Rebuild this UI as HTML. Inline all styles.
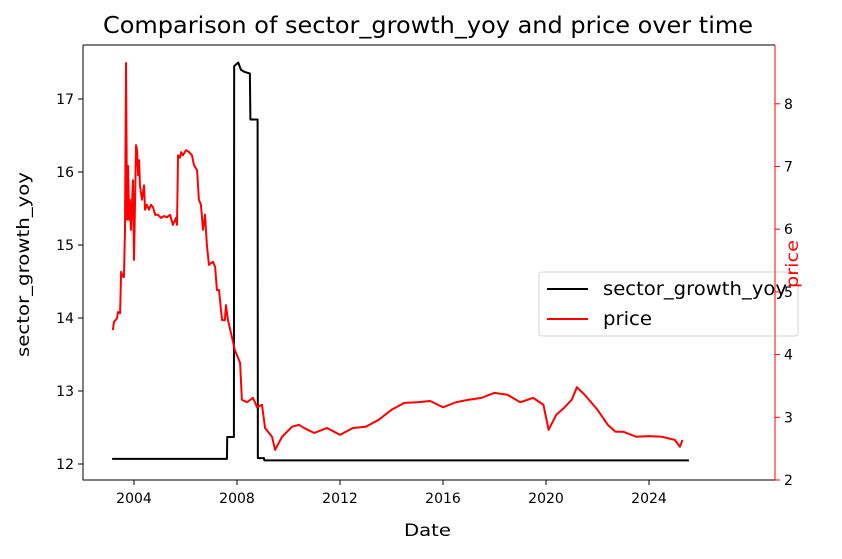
<!DOCTYPE html>
<html><head><meta charset="utf-8"><style>
body{margin:0;background:#fff;font-family:"Liberation Sans","DejaVu Sans",sans-serif}
svg text{font-family:"DejaVu Sans","Liberation Sans",sans-serif}
</style></head><body>
<svg id="chart" width="842" height="554" xmlns="http://www.w3.org/2000/svg"></svg>
<script>
const growthYears=[2003.15,2007.61,2007.62,2007.88,2007.89,2008.05,2008.15,2008.3,2008.5,2008.52,2008.8,2008.81,2009.05,2009.06,2025.55];
const growthValues=[12.07,12.07,12.37,12.37,17.45,17.5,17.4,17.37,17.35,16.72,16.72,12.08,12.08,12.05,12.05];
const priceYears=[2003.18,2003.22,2003.34,2003.38,2003.46,2003.5,2003.57,2003.61,2003.65,2003.69,2003.73,2003.77,2003.81,2003.84,2003.88,2003.96,2004.0,2004.08,2004.12,2004.16,2004.2,2004.23,2004.31,2004.39,2004.43,2004.5,2004.58,2004.66,2004.74,2004.82,2004.93,2005.05,2005.17,2005.28,2005.4,2005.51,2005.63,2005.67,2005.71,2005.79,2005.83,2005.9,2006.02,2006.14,2006.25,2006.33,2006.45,2006.52,2006.6,2006.68,2006.76,2006.83,2006.91,2006.99,2007.07,2007.15,2007.22,2007.3,2007.34,2007.42,2007.53,2007.57,2007.65,2007.92,2008.12,2008.19,2008.39,2008.62,2008.78,2008.97,2009.09,2009.36,2009.48,2009.75,2010.14,2010.41,2010.6,2011.0,2011.5,2012.0,2012.5,2013.0,2013.5,2014.0,2014.5,2015.0,2015.5,2016.0,2016.5,2017.0,2017.5,2018.0,2018.5,2019.0,2019.5,2019.9,2020.1,2020.4,2020.7,2021.0,2021.2,2021.5,2022.0,2022.4,2022.7,2023.0,2023.5,2024.0,2024.5,2025.0,2025.2,2025.3];
const priceValues=[4.39,4.52,4.58,4.68,4.66,5.32,5.24,5.24,5.99,8.65,6.15,7.01,6.15,6.47,5.99,6.78,5.51,7.34,7.26,6.86,7.1,6.7,6.47,6.7,6.31,6.39,6.31,6.39,6.35,6.23,6.23,6.18,6.21,6.19,6.23,6.07,6.18,6.07,7.18,7.14,7.23,7.18,7.26,7.23,7.18,7.02,6.94,6.47,6.39,5.99,6.23,5.75,5.43,5.46,5.48,5.4,5.03,5.03,4.87,4.55,4.55,4.79,4.55,4.07,3.87,3.28,3.24,3.31,3.16,3.2,2.83,2.69,2.48,2.69,2.85,2.88,2.83,2.75,2.83,2.72,2.83,2.85,2.96,3.12,3.23,3.24,3.26,3.16,3.24,3.28,3.31,3.39,3.36,3.24,3.31,3.2,2.8,3.04,3.15,3.28,3.48,3.36,3.12,2.88,2.77,2.77,2.69,2.7,2.69,2.64,2.53,2.64];
const xTicks=[2004,2008,2012,2016,2020,2024];
const leftTicks=[12,13,14,15,16,17];
const rightTicks=[2,3,4,5,6,7,8];
const L=83,R=775,T=45,B=480;
const X=v=>134+(v-2004)*25.75;
const YL=v=>464-(v-12)*73;
const YR=v=>480-(v-2)*62.7;
const svg=document.getElementById('chart');
const NS='http://www.w3.org/2000/svg';
function mk(tag,attrs,parent){const e=document.createElementNS(NS,tag);for(const k in attrs)e.setAttribute(k,attrs[k]);(parent||svg).appendChild(e);return e;}
function txt(s,attrs){const e=mk('text',attrs);e.textContent=s;return e;}
let t=txt('Comparison of sector_growth_yoy and price over time',{x:103,y:33,'font-size':23,textLength:650,lengthAdjust:'spacingAndGlyphs'});


function poly(xs,ys,fx,fy,color,name){const p=mk('polyline',{points:xs.map((x,i)=>fx(x)+','+fy(ys[i])).join(' '),fill:'none',stroke:color,'stroke-width':2,'stroke-linejoin':'round'});

}
poly(growthYears,growthValues,X,YL,'#000','sector-growth-line');
poly(priceYears,priceValues,X,YR,'#f00','price-line');
const f=mk('path',{d:`M${L},${T}V${B}H${R}M${L},${T}H${R}`,fill:'none',stroke:'#000','stroke-width':1});


const rs=mk('line',{x1:R,y1:T,x2:R,y2:B,stroke:'#f00','stroke-width':1});


xTicks.forEach(v=>{mk('line',{x1:X(v),x2:X(v),y1:B,y2:B+5,stroke:'#000'});
const e=txt(v,{x:X(v),y:B+23,'text-anchor':'middle','font-size':14});

});
leftTicks.forEach(v=>{mk('line',{x1:L-5,x2:L,y1:YL(v),y2:YL(v),stroke:'#000'});
const e=txt(v,{x:L-9,y:YL(v)+5,'text-anchor':'end','font-size':14});

});
const lg=mk('rect',{x:539,y:272,width:259,height:64,rx:3,fill:'#fff','fill-opacity':0.8,stroke:'#d5d5d5'});


mk('line',{x1:547,x2:588,y1:289,y2:289,stroke:'#000','stroke-width':2});
t=txt('sector_growth_yoy',{x:603,y:295,'font-size':19,textLength:184,lengthAdjust:'spacingAndGlyphs'});


mk('line',{x1:547,x2:588,y1:319,y2:319,stroke:'#f00','stroke-width':2});
t=txt('price',{x:603,y:325,'font-size':19,textLength:49,lengthAdjust:'spacingAndGlyphs'});


mk('line',{x1:R,y1:T,x2:R,y2:B,stroke:'#f00','stroke-width':1});
rightTicks.forEach(v=>{mk('line',{x1:R,x2:R+5,y1:YR(v),y2:YR(v),stroke:'#f00'});
const e=txt(v,{x:R+9,y:YR(v)+5,'font-size':14});

});
t=txt('Date',{x:404,y:536,'font-size':17,textLength:47,lengthAdjust:'spacingAndGlyphs'});


t=txt('sector_growth_yoy',{x:0,y:0,'font-size':17,textLength:185,lengthAdjust:'spacingAndGlyphs',transform:'translate(29,357) rotate(-90)'});


t=txt('price',{x:0,y:0,'font-size':17,fill:'#f00',textLength:48,lengthAdjust:'spacingAndGlyphs',transform:'translate(798,288) rotate(-90)'});


</script>
</body></html>
